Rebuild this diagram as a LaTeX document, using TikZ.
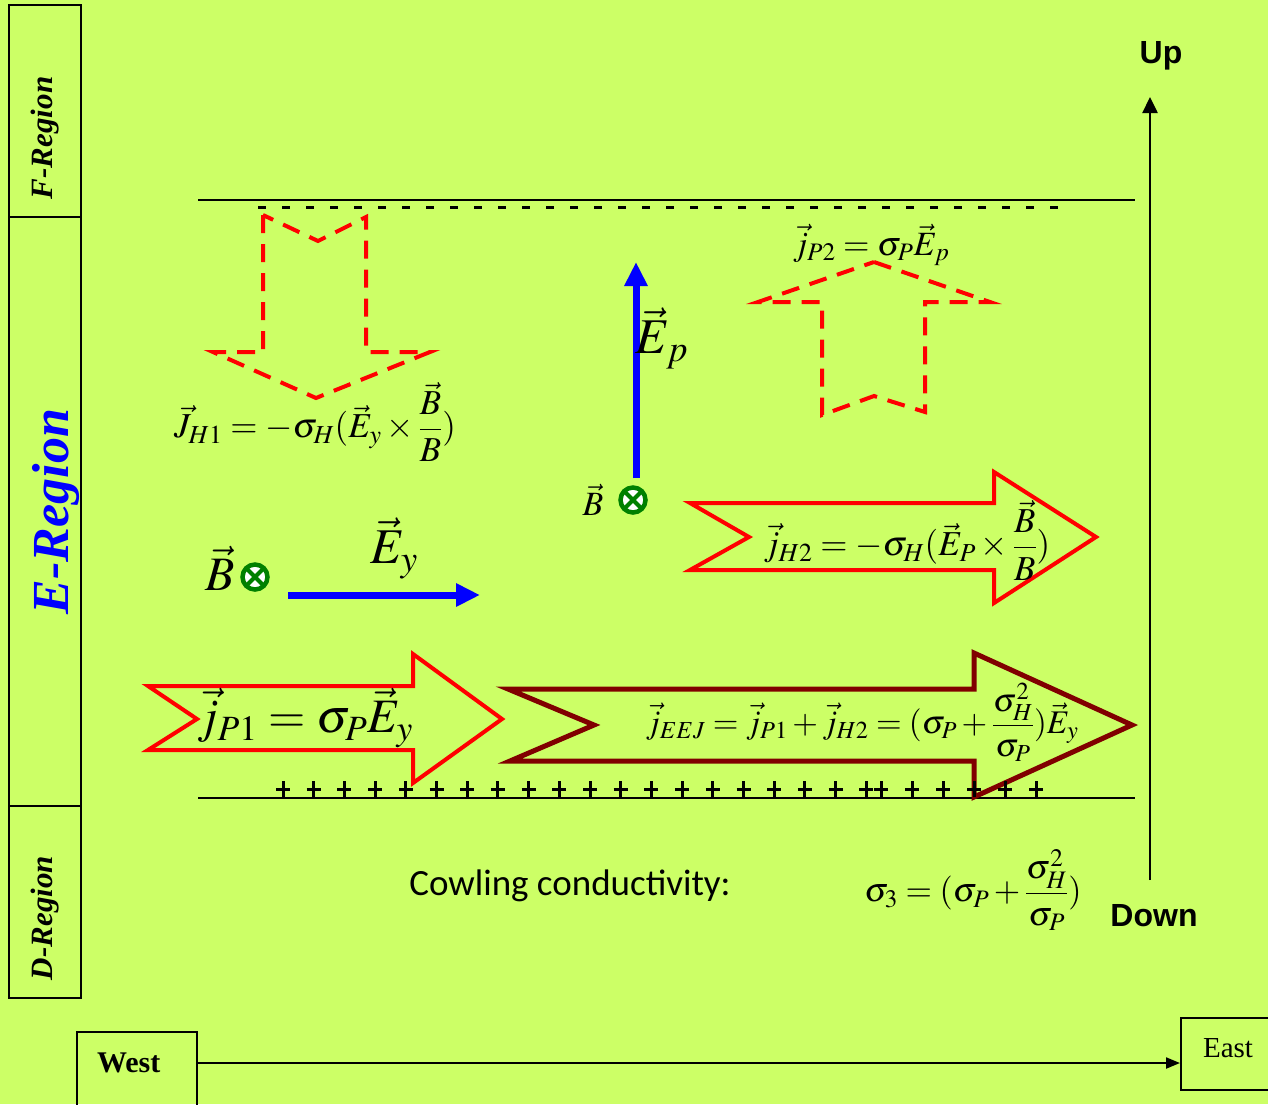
\documentclass[tikz,border=0pt]{standalone}
\usepackage{amsmath}
\usepackage{mathptmx}
\usepackage[no-math]{fontspec}
\setmainfont{Liberation Serif}
\newfontfamily\cowlingfont{Carlito}
\newfontfamily\dirsans{Liberation Sans}
\usetikzlibrary{arrows.meta}
\definecolor{bglime}{HTML}{CCFF66}
\definecolor{maroon}{HTML}{800000}
\definecolor{darkgreen}{HTML}{008000}
\definecolor{pureblue}{HTML}{0000FF}
\definecolor{purered}{HTML}{FF0000}
\newcommand{\fsize}[1]{\fontsize{#1}{#1}\selectfont}

\begin{document}
\begin{tikzpicture}[x=1pt,y=-1pt,
  regbox/.style={draw,line width=2pt,rotate=90,minimum height=72pt,inner ysep=0pt},
  dirbox/.style={draw,line width=2pt,inner sep=0pt},
  redarrow/.style={draw=purered,line width=4pt,line join=miter},
  dashedarrow/.style={draw=purered,line width=4pt,dash pattern=on 18pt off 11pt},
  bluearrow/.style={pureblue,line width=7pt,-{Triangle[length=24pt,width=22pt]}},
  plusmark/.style={line width=3pt},
  bcross/.style={circle,draw=darkgreen,fill=white,line width=4.5pt,minimum size=25pt,inner sep=0pt,
    path picture={\draw[darkgreen,line width=4pt]
      (path picture bounding box.south west) -- (path picture bounding box.north east)
      (path picture bounding box.north west) -- (path picture bounding box.south east);}}]
  \useasboundingbox (0,0) rectangle (1268,1104);
  \fill[bglime] (0,0) rectangle (1268,1104);

  % regions
  \node[regbox,minimum width=212pt,text width=176pt,align=left,inner xsep=18pt,font=\bfseries\itshape\fsize{31}] (freg) at (45,111) {F-Region};
  \node[regbox,minimum width=589pt,align=center,text height=58pt,text=pureblue,font=\bfseries\itshape\fsize{52}] (ereg) at (45,511.5) {E-Region};
  \node[regbox,minimum width=192pt,text width=156pt,align=left,inner xsep=18pt,font=\bfseries\itshape\fsize{31}] (dreg) at (45,902) {D-Region};

  \draw[line width=2.5pt] (198,200) -- (1135,200);
  \draw[line width=3pt,dash pattern=on 8pt off 16pt] (258,207) -- (1070,207);
  \draw[line width=2.5pt] (198,798) -- (1135,798);

  % Hall and Pedersen currents
  \draw[dashedarrow] (263,215) -- (263,352) -- (213,352) -- (316,398) -- (430,352) -- (366,352) -- (366,217) -- (318,241) -- cycle;
  \draw[dashedarrow] (874,262) -- (990,302) -- (925,302) -- (925,412) -- (874,396) -- (822,415) -- (822,302) -- (758,302) -- cycle;
  \draw[redarrow] (690,503) -- (994,503) -- (994,472) -- (1096,537) -- (994,603) -- (994,570) -- (690,570) -- (749,537) -- cycle;
  \draw[redarrow] (148,686) -- (413,686) -- (413,654) -- (502,719) -- (413,783) -- (413,750) -- (148,750) -- (197,719) -- cycle;
  \draw[redarrow,draw=maroon,line width=5pt] (508,689) -- (974,689) -- (974,653) -- (1132,725) -- (974,797) -- (974,761) -- (510,761) -- (594,725) -- cycle;

  \foreach \x in {283,313.7,...,867}{
    \draw[plusmark] (\x,789) +(-7,0) -- +(7,0) +(0,-8) -- +(0,8);
  }
  \foreach \x in {881,912,...,1036}{
    \draw[plusmark] (\x,789) +(-7,0) -- +(7,0) +(0,-8) -- +(0,8);
  }

  % fields
  \coordinate (epbot) at (636,478);
  \coordinate (eptop) at (636,262);
  \draw[bluearrow] (epbot) -- (eptop);
  \coordinate (eyleft) at (288,595);
  \coordinate (eyright) at (480,595);
  \draw[bluearrow] (eyleft) -- (eyright);
  \node[font=\fsize{50}] (eplabel) at (662,338) {$\vec{E}_p$};
  \node[font=\fsize{50}] (eylabel) at (394,548) {$\vec{E}_y$};
  \node[font=\fsize{48}] (bleft) at (220,568) {$\vec{B}$};
  \node[bcross] (bxleft) at (255,577) {};
  \node[font=\fsize{34}] (bmid) at (593,500) {$\vec{B}$};
  \node[bcross] (bxmid) at (633,500) {};

  % current equations
  \node[font=\fsize{35}] (jh1) at (315,422) {$\vec{J}_{H1} = -\sigma_H(\vec{E}_y \times \dfrac{\vec{B}}{B})$};
  \node[font=\fsize{34}] (jp2) at (871,245) {$\vec{j}_{P2} = \sigma_P\vec{E}_p$};
  \node[font=\fsize{35}] (jh2) at (907,540) {$\vec{j}_{H2} = -\sigma_H(\vec{E}_P \times \dfrac{\vec{B}}{B})$};
  \node[font=\fsize{48}] (jp1) at (305,718) {$\vec{j}_{P1} = \sigma_P\vec{E}_y$};
  \node[font=\fsize{33}] (jeej) at (862,722) {$\vec{j}_{EEJ} = \vec{j}_{P1} + \vec{j}_{H2} = (\sigma_P + \dfrac{\sigma_H^2}{\sigma_P})\vec{E}_y$};

  \node[font=\cowlingfont\fsize{37}] (cowling) at (570,886) {Cowling conductivity:};
  \node[font=\fsize{34}] (sigma3) at (973,890) {$\sigma_3 = (\sigma_P + \dfrac{\sigma_H^2}{\sigma_P})$};

  % vertical direction
  \node[font=\dirsans\bfseries\fsize{32}] (up) at (1161,56) {Up};
  \node[font=\dirsans\bfseries\fsize{32}] (down) at (1154,916) {Down};
  \coordinate (upbase) at (1150,880);
  \coordinate (uptip) at (1150,97);
  \draw[line width=2.5pt,-{Triangle[length=16pt,width=15pt]}] (upbase) -- (uptip);

  % horizontal direction
  \node[dirbox,minimum width=120pt,minimum height=84pt,text width=80pt,align=left,inner xsep=20pt,text depth=22pt,font=\bfseries\fsize{30}] (west) at (137,1074) {West};
  \node[dirbox,minimum width=94pt,minimum height=72pt,text depth=12pt,font=\fsize{29}] (east) at (1228,1054) {East};
  \coordinate (weline) at (0,1063);
  \draw[line width=2pt,-{Triangle[length=14pt,width=11pt]}] (west.east |- weline) -- (east.west |- weline);
\end{tikzpicture}
\end{document}
